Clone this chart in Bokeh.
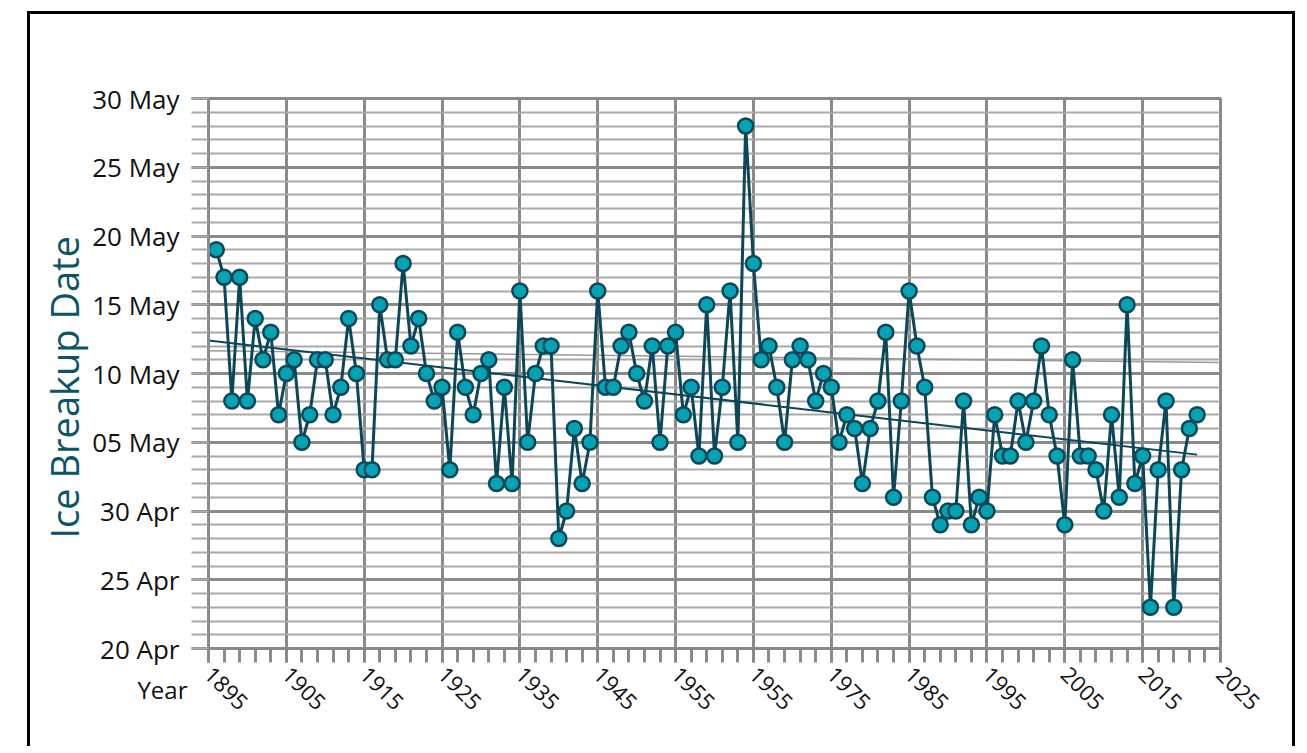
import math
from bokeh.plotting import figure
from bokeh.models import FixedTicker, Label
from bokeh.embed import file_html
from bokeh.resources import INLINE

# ---- data -------------------------------------------------------------
years = list(range(1896, 2023))
breakup = [
    "19 May", "17 May", "8 May", "17 May", "8 May", "14 May", "11 May", "13 May", "7 May", "10 May",   # 1896-1905
    "11 May", "5 May", "7 May", "11 May", "11 May", "7 May", "9 May", "14 May", "10 May", "3 May",     # 1906-1915
    "3 May", "15 May", "11 May", "11 May", "18 May", "12 May", "14 May", "10 May", "8 May", "9 May",   # 1916-1925
    "3 May", "13 May", "9 May", "7 May", "10 May", "11 May", "2 May", "9 May", "2 May", "16 May",      # 1926-1935
    "5 May", "10 May", "12 May", "12 May", "28 Apr", "30 Apr", "6 May", "2 May", "5 May", "16 May",    # 1936-1945
    "9 May", "9 May", "12 May", "13 May", "10 May", "8 May", "12 May", "5 May", "12 May", "13 May",    # 1946-1955
    "7 May", "9 May", "4 May", "15 May", "4 May", "9 May", "16 May", "5 May", "28 May", "18 May",      # 1956-1965
    "11 May", "12 May", "9 May", "5 May", "11 May", "12 May", "11 May", "8 May", "10 May", "9 May",    # 1966-1975
    "5 May", "7 May", "6 May", "2 May", "6 May", "8 May", "13 May", "1 May", "8 May", "16 May",        # 1976-1985
    "12 May", "9 May", "1 May", "29 Apr", "30 Apr", "30 Apr", "8 May", "29 Apr", "1 May", "30 Apr",    # 1986-1995
    "7 May", "4 May", "4 May", "8 May", "5 May", "8 May", "12 May", "7 May", "4 May", "29 Apr",        # 1996-2005
    "11 May", "4 May", "4 May", "3 May", "30 Apr", "7 May", "1 May", "15 May", "2 May", "4 May",       # 2006-2015
    "23 Apr", "3 May", "8 May", "23 Apr", "3 May", "6 May", "7 May",                                   # 2016-2022
]

y_tick_values = [-10, -5, 0, 5, 10, 15, 20, 25, 30]          # days after 30 Apr
y_tick_labels = ["20 Apr", "25 Apr", "30 Apr", "05 May", "10 May",
                 "15 May", "20 May", "25 May", "30 May"]
x_tick_values = list(range(1895, 2026, 10))
x_tick_labels = ["1895", "1905", "1915", "1925", "1935", "1945", "1955",
                 "1955", "1975", "1985", "1995", "2005", "2015", "2025"]

trend_years = [1895, 2022]
trend_days = [12.4, 4.1]
ref_years = [1895, 2025]
ref_days = [11.65, 10.8]


def to_offset(s):
    d, m = s.split()
    d = int(d)
    return d - 30 if m == "Apr" else d


days = [to_offset(s) for s in breakup]

# ---- styling ------------------------------------------------------------
FONT = "Open Sans"
GRID = "#8a8a8a"
MINOR = "#a9a9a9"
LINE = "#0b4759"
FILL = "#03a3b4"
TITLE = "#0b5566"

p = figure(width=1268, height=735,
           x_range=(1895, 2025), y_range=(-10, 30),
           output_backend="svg", toolbar_location=None,
           min_border_left=178, min_border_right=78,
           min_border_top=84, min_border_bottom=101)
p.styles = {"border-left": "3px solid black", "border-top": "3px solid black",
            "border-right": "3px solid black",
            "margin-left": "27px", "margin-top": "11px"}

p.outline_line_color = GRID
p.outline_line_width = 3
p.background_fill_color = "white"
p.border_fill_color = "white"

# x axis
p.xaxis.ticker = FixedTicker(ticks=x_tick_values, minor_ticks=list(range(1895, 2026, 2)))
p.xaxis.major_label_overrides = {v: t for v, t in zip(x_tick_values, x_tick_labels)}
p.xaxis.major_label_orientation = -math.pi / 4
p.xaxis.major_label_text_font = FONT
p.xaxis.major_label_text_font_size = "22px"
p.xaxis.major_label_text_color = "#111111"
p.xaxis.major_label_standoff = 8
p.xaxis.axis_line_color = GRID
p.xaxis.axis_line_width = 3
p.xaxis.major_tick_line_color = GRID
p.xaxis.major_tick_line_width = 3
p.xaxis.major_tick_in = 0
p.xaxis.major_tick_out = 14
p.xaxis.minor_tick_line_color = GRID
p.xaxis.minor_tick_line_width = 3
p.xaxis.minor_tick_in = 0
p.xaxis.minor_tick_out = 14

# y axis
p.yaxis.ticker = FixedTicker(ticks=y_tick_values, minor_ticks=list(range(-10, 31)))
p.yaxis.major_label_overrides = {v: t for v, t in zip(y_tick_values, y_tick_labels)}
p.yaxis.major_label_text_font = FONT
p.yaxis.major_label_text_font_size = "26px"
p.yaxis.major_label_text_color = "#111111"
p.yaxis.major_label_standoff = 12
p.yaxis.axis_line_color = GRID
p.yaxis.axis_line_width = 3
p.yaxis.major_tick_line_color = GRID
p.yaxis.major_tick_line_width = 3
p.yaxis.major_tick_in = 0
p.yaxis.major_tick_out = 17
p.yaxis.minor_tick_line_color = MINOR
p.yaxis.minor_tick_line_width = 2
p.yaxis.minor_tick_in = 0
p.yaxis.minor_tick_out = 17

# grids
p.xgrid.grid_line_color = GRID
p.xgrid.grid_line_width = 3
p.ygrid.grid_line_color = GRID
p.ygrid.grid_line_width = 3
p.ygrid.minor_grid_line_color = MINOR
p.ygrid.minor_grid_line_width = 2

# reference thin line and trend
p.line(ref_years, ref_days, line_color="#9a9a9a", line_width=1.5)
p.line(trend_years, trend_days, line_color=LINE, line_width=2)

# series
p.line(years, days, line_color=LINE, line_width=3)
p.scatter(years, days, size=15, fill_color=FILL, line_color=LINE, line_width=2.5)

# texts outside the frame (side-panel annotations are not clipped)
p.add_layout(Label(x=1892.3, y=-12.95, text="Year", text_align="right",
                   text_baseline="middle", text_font=FONT, text_font_size="24px",
                   text_color="#111111"), "above")
p.add_layout(Label(x=1876.5, y=9.0, text="Ice Breakup Date", angle=math.pi / 2,
                   text_align="center", text_baseline="middle", text_font=FONT,
                   text_font_size="38px", text_color=TITLE), "left")

open("out.html", "w").write(file_html(p, INLINE))
